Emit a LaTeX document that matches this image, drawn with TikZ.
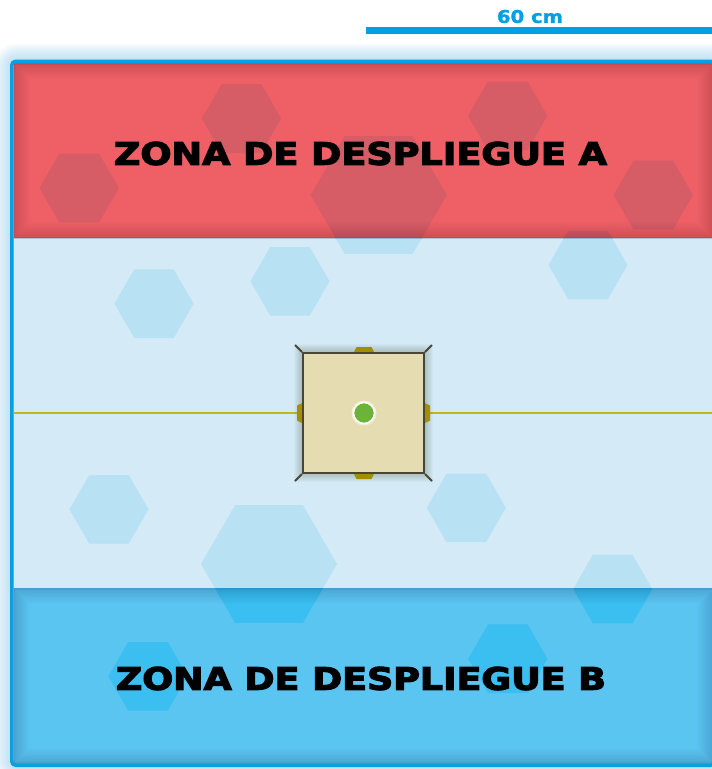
\documentclass[tikz,border=0pt]{standalone}
\usepackage{fontspec}
\newfontfamily\zonefont[FakeBold=3.5]{DejaVu Sans Bold}
\newfontfamily\scalefont[FakeBold=1.5]{DejaVu Sans Bold}
\usetikzlibrary{calc}
\definecolor{redzone}{HTML}{EE5F66}
\definecolor{redhex}{HTML}{D65C66}
\definecolor{midzone}{HTML}{D4EBF7}
\definecolor{midhex}{HTML}{B8E1F4}
\definecolor{bluezone}{HTML}{5BC5F2}
\definecolor{bluehex}{HTML}{3BBEF0}
\definecolor{framecol}{HTML}{0A9FE0}
\definecolor{glowcol}{HTML}{55B8EC}
\definecolor{scaleblue}{HTML}{00A0E3}
\definecolor{olive}{HTML}{A08F00}
\definecolor{midlinecol}{HTML}{C4B320}
\definecolor{sqfill}{HTML}{E6DCB1}
\definecolor{sqborder}{HTML}{4A4535}
\definecolor{dotgreen}{HTML}{6CB33A}
\definecolor{sqshadow}{HTML}{3E4A30}
\newcommand\hexesin[1]{%
  \foreach \cx/\cy/\rr in {241.5/118.5/39.6, 79.2/188/39.6, 378.7/195/68, 507.7/115.8/39.6, 653.3/195/39.6,
    154/303.7/39.6, 290/281.3/39.6, 588/265/39.6, 109/509.3/39.6, 466.3/507.8/39.6, 269/564/68,
    612.7/589/39.6, 148/676.3/39.6, 507.8/658.7/39.6}
  {\fill[#1,shift={(\cx,\cy)}] (0:\rr) -- (60:\rr) -- (120:\rr) -- (180:\rr) -- (240:\rr) -- (300:\rr) -- cycle;}}
\newcommand\innershade[4]{%
  \begin{scope}
    \clip (#1,#2) rectangle (#3,#4);
    \foreach \i in {1,...,16}
      {\draw[black,opacity=0.009,line width=2*\i pt] (#1,#2) rectangle (#3,#4);}
    \draw[black,opacity=0.04,line width=3pt] (#1,#2) rectangle (#3,#4);
  \end{scope}}
\tikzset{
  zonelabel/.style={inner sep=0pt, text=black},
  tabshape/.style={fill=olive},
  cornertick/.style={draw=sqborder, line width=1.8pt},
  midline/.style={draw=midlinecol, line width=1.1pt},
}
\begin{document}
\begin{tikzpicture}[x=1pt,y=-1pt]
\useasboundingbox (0,0) rectangle (712,769);
\fill[white] (0,0) rectangle (712,769);
% outer glow
\foreach \i in {1,...,12}
  {\draw[glowcol,opacity=0.035,line width=3*\i pt,rounded corners=6pt] (11.75,61.25) rectangle (714.75,765.25);}
% zones
\fill[redzone] (13.5,63) rectangle (713,238);
\fill[midzone] (13.5,238) rectangle (713,588);
\fill[bluezone] (13.5,588) rectangle (713,763.5);
% hexagons
\begin{scope}\clip (13.5,63) rectangle (713,238); \hexesin{redhex} \end{scope}
\begin{scope}\clip (13.5,238) rectangle (713,588); \hexesin{midhex} \end{scope}
\begin{scope}\clip (13.5,588) rectangle (713,763.5); \hexesin{bluehex} \end{scope}
% inner shading of the deployment zones
\innershade{13.5}{63}{713}{238}
\innershade{13.5}{588}{713}{763.5}
% centre line
\coordinate (mlL) at (13.5,413);
\coordinate (mlR) at (713,413);
\draw[midline] (mlL) -- (mlR);
% frame
\draw[framecol,line width=3.5pt,rounded corners=4pt] (11.75,61.25) rectangle (714.75,765.25);
% objective shadow
\foreach \i in {1,...,9}
  {\draw[sqshadow,opacity=0.03,line width=2*\i pt] (303,353) rectangle (424,473);}
% tabs
\fill[tabshape] (353,354) -- (356.5,347) -- (371.5,347) -- (375,354) -- cycle;
\fill[tabshape] (353,472) -- (356.5,479) -- (371.5,479) -- (375,472) -- cycle;
\fill[tabshape] (304,402) -- (297,405.5) -- (297,420.5) -- (304,424) -- cycle;
\fill[tabshape] (423,402) -- (430,405.5) -- (430,420.5) -- (423,424) -- cycle;
% objective square
\node[draw=sqborder, fill=sqfill, line width=2pt, minimum width=121pt, minimum height=120pt, inner sep=0pt] (base) at (363.5,413) {};
\draw[cornertick] (base.north west) -- ++(-7,-7);
\draw[cornertick] (base.north east) -- ++(7,-7);
\draw[cornertick] (base.south west) -- ++(-7,7);
\draw[cornertick] (base.south east) -- ++(7,7);
\node[circle, fill=white, opacity=0.5, minimum size=25pt, inner sep=0pt] (dotglow) at (364,413) {};
\node[circle, fill=dotgreen, draw=white, line width=1.5pt, minimum size=21pt, inner sep=0pt] (obj) at (364,413) {};
% labels
\node[zonelabel] (zonaA) at (360.5,153.5) {\resizebox{493pt}{23pt}{\zonefont ZONA DE DESPLIEGUE A}};
\node[zonelabel] (zonaB) at (361,678.5) {\resizebox{490pt}{23pt}{\zonefont ZONA DE DESPLIEGUE B}};
% scale bar
\coordinate (sbL) at (366,30.8);
\coordinate (sbR) at (712,30.8);
\draw[scaleblue,line width=7pt] (sbL) -- (sbR);
\node[inner sep=0pt] (scaletxt) at (530,16.5) {\resizebox{66pt}{13pt}{\color{scaleblue}\scalefont 60 cm}};
\end{tikzpicture}
\end{document}
